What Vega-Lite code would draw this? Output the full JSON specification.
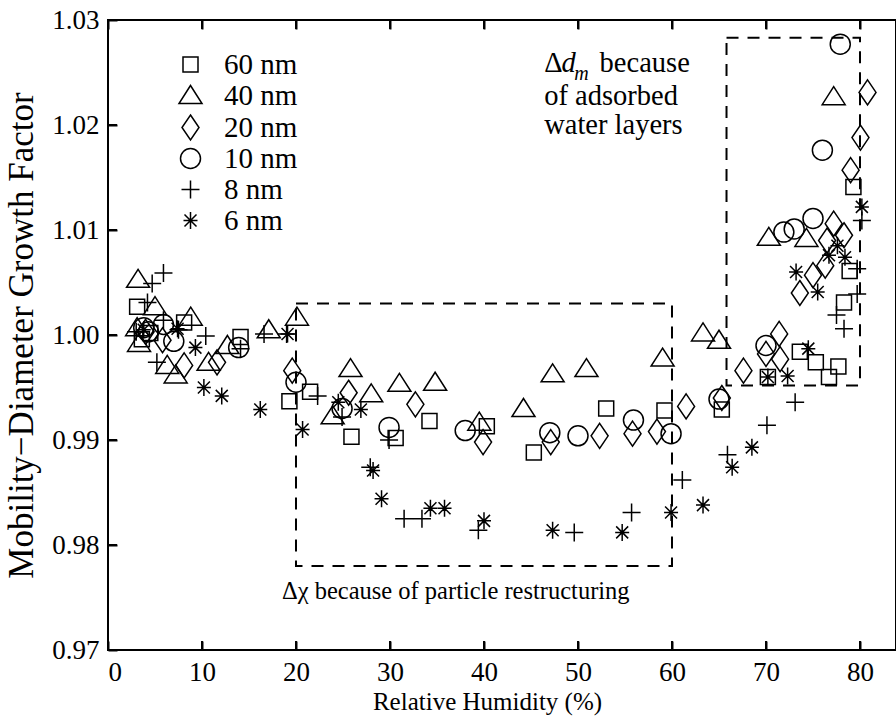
{
  "$schema": "https://vega.github.io/schema/vega-lite/v6.json",
  "width": 788,
  "height": 630,
  "autosize": {"type": "none"},
  "padding": {"left": 108, "top": 20, "right": 0, "bottom": 66},
  "background": "white",
  "config": {
    "font": "'Liberation Serif', 'Times New Roman', Times, 'DejaVu Serif', serif",
    "view": {"stroke": "black", "strokeWidth": 2},
    "axis": {"labelFont": "'Liberation Serif', 'Times New Roman', Times, 'DejaVu Serif', serif", "titleFont": "'Liberation Serif', 'Times New Roman', Times, 'DejaVu Serif', serif", "labelColor": "black", "titleColor": "black", "tickColor": "black", "tickOpacity": 1, "grid": false, "domain": false, "titleFontWeight": "normal"},
    "legend": {"labelFont": "'Liberation Serif', 'Times New Roman', Times, 'DejaVu Serif', serif"},
    "text": {"font": "'Liberation Serif', 'Times New Roman', Times, 'DejaVu Serif', serif"}
  },
  "resolve": {"axis": {"x": "independent"}},
  "datasets": {
    "xticks": [{"v": 0}, {"v": 10}, {"v": 20}, {"v": 30}, {"v": 40}, {"v": 50}, {"v": 60}, {"v": 70}, {"v": 80}],
    "yticks": [{"v": 0.97}, {"v": 0.98}, {"v": 0.99}, {"v": 1.0}, {"v": 1.01}, {"v": 1.02}, {"v": 1.03}]
  },
  "layer": [
    {
      "data": {"values": [
        {"x1": 20, "x2": 60, "y1": 0.978, "y2": 1.003},
        {"x1": 65.8, "x2": 80, "y1": 0.9952, "y2": 1.0283}
      ]},
      "mark": {"type": "rect", "fill": null, "stroke": "black", "strokeWidth": 2, "strokeDash": [12, 9]},
      "encoding": {
        "x": {"field": "x1", "type": "quantitative", "scale": {"domain": [0, 83.83], "nice": false, "zero": false},
              "axis": {"orient": "top", "labels": false, "title": null, "values": [0,10,20,30,40,50,60,70,80], "ticks": true, "tickColor": "black", "tickSize": 9, "offset": -9, "tickWidth": 2}},
        "x2": {"field": "x2"},
        "y": {"field": "y1", "type": "quantitative", "scale": {"domain": [0.97, 1.03], "nice": false, "zero": false}},
        "y2": {"field": "y2"}
      }
    },
    {
      "data": {"name": "xticks"},
      "mark": {"type": "rule", "color": "black", "strokeWidth": 2},
      "encoding": {
        "x": {"field": "v", "type": "quantitative", "axis": null},
        "y": {"datum": 1.03},
        "y2": {"datum": 1.02914}
      }
    },
    {
      "data": {"name": "xticks"},
      "mark": {"type": "rule", "color": "black", "strokeWidth": 2},
      "encoding": {
        "x": {"field": "v", "type": "quantitative", "axis": null},
        "y": {"datum": 0.97},
        "y2": {"datum": 0.97086}
      }
    },
    {
      "data": {"name": "yticks"},
      "mark": {"type": "rule", "color": "black", "strokeWidth": 2},
      "encoding": {
        "y": {"field": "v", "type": "quantitative"},
        "x": {"datum": 0, "axis": null},
        "x2": {"datum": 0.957}
      }
    },
    {
      "data": {"values": [
        {"rh": 3.1, "gf": 1.0027, "size": "60 nm"},
        {"rh": 3.6, "gf": 0.9996, "size": "60 nm"},
        {"rh": 4.5, "gf": 1.0002, "size": "60 nm"},
        {"rh": 8.1, "gf": 1.0012, "size": "60 nm"},
        {"rh": 14.1, "gf": 0.9998, "size": "60 nm"},
        {"rh": 19.3, "gf": 0.9937, "size": "60 nm"},
        {"rh": 21.5, "gf": 0.9946, "size": "60 nm"},
        {"rh": 25.9, "gf": 0.9903, "size": "60 nm"},
        {"rh": 30.6, "gf": 0.9902, "size": "60 nm"},
        {"rh": 34.2, "gf": 0.9918, "size": "60 nm"},
        {"rh": 40.3, "gf": 0.9913, "size": "60 nm"},
        {"rh": 45.3, "gf": 0.9888, "size": "60 nm"},
        {"rh": 53.0, "gf": 0.9930, "size": "60 nm"},
        {"rh": 59.2, "gf": 0.9928, "size": "60 nm"},
        {"rh": 65.3, "gf": 0.9929, "size": "60 nm"},
        {"rh": 70.2, "gf": 0.9960, "size": "60 nm"},
        {"rh": 73.6, "gf": 0.9984, "size": "60 nm"},
        {"rh": 75.3, "gf": 0.9974, "size": "60 nm"},
        {"rh": 76.7, "gf": 0.9960, "size": "60 nm"},
        {"rh": 77.7, "gf": 0.9970, "size": "60 nm"},
        {"rh": 78.3, "gf": 1.0031, "size": "60 nm"},
        {"rh": 78.9, "gf": 1.0061, "size": "60 nm"},
        {"rh": 79.3, "gf": 1.0141, "size": "60 nm"},

        {"rh": 3.2, "gf": 1.0053, "size": "40 nm"},
        {"rh": 3.1, "gf": 1.0007, "size": "40 nm"},
        {"rh": 3.3, "gf": 0.9992, "size": "40 nm"},
        {"rh": 5.0, "gf": 1.0027, "size": "40 nm"},
        {"rh": 8.8, "gf": 1.0017, "size": "40 nm"},
        {"rh": 6.3, "gf": 0.9971, "size": "40 nm"},
        {"rh": 7.2, "gf": 0.9962, "size": "40 nm"},
        {"rh": 10.7, "gf": 0.9974, "size": "40 nm"},
        {"rh": 12.7, "gf": 0.9990, "size": "40 nm"},
        {"rh": 17.1, "gf": 1.0005, "size": "40 nm"},
        {"rh": 20.1, "gf": 1.0017, "size": "40 nm"},
        {"rh": 23.9, "gf": 0.9923, "size": "40 nm"},
        {"rh": 25.8, "gf": 0.9968, "size": "40 nm"},
        {"rh": 28.0, "gf": 0.9944, "size": "40 nm"},
        {"rh": 31.0, "gf": 0.9954, "size": "40 nm"},
        {"rh": 34.8, "gf": 0.9955, "size": "40 nm"},
        {"rh": 39.5, "gf": 0.9917, "size": "40 nm"},
        {"rh": 44.2, "gf": 0.9930, "size": "40 nm"},
        {"rh": 47.3, "gf": 0.9963, "size": "40 nm"},
        {"rh": 50.9, "gf": 0.9968, "size": "40 nm"},
        {"rh": 59.0, "gf": 0.9978, "size": "40 nm"},
        {"rh": 63.3, "gf": 1.0002, "size": "40 nm"},
        {"rh": 65.0, "gf": 0.9995, "size": "40 nm"},
        {"rh": 70.3, "gf": 1.0093, "size": "40 nm"},
        {"rh": 74.3, "gf": 1.0092, "size": "40 nm"},
        {"rh": 77.2, "gf": 1.0227, "size": "40 nm"},

        {"rh": 4.0, "gf": 1.0003, "size": "20 nm"},
        {"rh": 5.8, "gf": 0.9995, "size": "20 nm"},
        {"rh": 8.1, "gf": 0.9971, "size": "20 nm"},
        {"rh": 11.6, "gf": 0.9974, "size": "20 nm"},
        {"rh": 19.6, "gf": 0.9966, "size": "20 nm"},
        {"rh": 25.6, "gf": 0.9945, "size": "20 nm"},
        {"rh": 32.7, "gf": 0.9934, "size": "20 nm"},
        {"rh": 39.9, "gf": 0.9898, "size": "20 nm"},
        {"rh": 47.1, "gf": 0.9898, "size": "20 nm"},
        {"rh": 52.3, "gf": 0.9904, "size": "20 nm"},
        {"rh": 55.8, "gf": 0.9906, "size": "20 nm"},
        {"rh": 58.4, "gf": 0.9908, "size": "20 nm"},
        {"rh": 61.5, "gf": 0.9932, "size": "20 nm"},
        {"rh": 65.3, "gf": 0.9940, "size": "20 nm"},
        {"rh": 67.6, "gf": 0.9966, "size": "20 nm"},
        {"rh": 70.0, "gf": 0.9982, "size": "20 nm"},
        {"rh": 71.4, "gf": 1.0001, "size": "20 nm"},
        {"rh": 71.5, "gf": 0.9977, "size": "20 nm"},
        {"rh": 73.6, "gf": 1.0040, "size": "20 nm"},
        {"rh": 75.0, "gf": 1.0057, "size": "20 nm"},
        {"rh": 76.3, "gf": 1.0066, "size": "20 nm"},
        {"rh": 76.5, "gf": 1.0090, "size": "20 nm"},
        {"rh": 77.2, "gf": 1.0106, "size": "20 nm"},
        {"rh": 78.3, "gf": 1.0095, "size": "20 nm"},
        {"rh": 79.0, "gf": 1.0157, "size": "20 nm"},
        {"rh": 80.05, "gf": 1.0188, "size": "20 nm"},
        {"rh": 80.8, "gf": 1.0231, "size": "20 nm"},

        {"rh": 3.8, "gf": 1.0007, "size": "10 nm"},
        {"rh": 4.3, "gf": 1.0003, "size": "10 nm"},
        {"rh": 5.9, "gf": 1.0010, "size": "10 nm"},
        {"rh": 7.0, "gf": 0.9994, "size": "10 nm"},
        {"rh": 13.9, "gf": 0.9988, "size": "10 nm"},
        {"rh": 20.0, "gf": 0.9955, "size": "10 nm"},
        {"rh": 24.9, "gf": 0.9930, "size": "10 nm"},
        {"rh": 29.9, "gf": 0.9912, "size": "10 nm"},
        {"rh": 38.0, "gf": 0.9909, "size": "10 nm"},
        {"rh": 47.0, "gf": 0.9907, "size": "10 nm"},
        {"rh": 50.0, "gf": 0.9904, "size": "10 nm"},
        {"rh": 55.9, "gf": 0.9919, "size": "10 nm"},
        {"rh": 59.9, "gf": 0.9906, "size": "10 nm"},
        {"rh": 65.0, "gf": 0.9939, "size": "10 nm"},
        {"rh": 70.0, "gf": 0.9990, "size": "10 nm"},
        {"rh": 71.9, "gf": 1.0098, "size": "10 nm"},
        {"rh": 73.0, "gf": 1.0101, "size": "10 nm"},
        {"rh": 75.0, "gf": 1.0111, "size": "10 nm"},
        {"rh": 76.0, "gf": 1.0176, "size": "10 nm"},
        {"rh": 77.9, "gf": 1.0277, "size": "10 nm"},

        {"rh": 3.0, "gf": 1.0003, "size": "8 nm"},
        {"rh": 4.2, "gf": 1.0031, "size": "8 nm"},
        {"rh": 4.7, "gf": 1.0049, "size": "8 nm"},
        {"rh": 5.9, "gf": 1.0059, "size": "8 nm"},
        {"rh": 5.9, "gf": 1.0014, "size": "8 nm"},
        {"rh": 5.2, "gf": 0.9974, "size": "8 nm"},
        {"rh": 7.5, "gf": 1.0005, "size": "8 nm"},
        {"rh": 10.4, "gf": 0.9999, "size": "8 nm"},
        {"rh": 14.1, "gf": 0.9987, "size": "8 nm"},
        {"rh": 16.6, "gf": 1.0001, "size": "8 nm"},
        {"rh": 19.0, "gf": 1.0001, "size": "8 nm"},
        {"rh": 22.3, "gf": 0.9942, "size": "8 nm"},
        {"rh": 24.9, "gf": 0.9922, "size": "8 nm"},
        {"rh": 27.9, "gf": 0.9874, "size": "8 nm"},
        {"rh": 29.9, "gf": 0.9900, "size": "8 nm"},
        {"rh": 31.5, "gf": 0.9825, "size": "8 nm"},
        {"rh": 33.4, "gf": 0.9825, "size": "8 nm"},
        {"rh": 39.4, "gf": 0.9814, "size": "8 nm"},
        {"rh": 49.6, "gf": 0.9812, "size": "8 nm"},
        {"rh": 55.7, "gf": 0.9831, "size": "8 nm"},
        {"rh": 61.1, "gf": 0.9862, "size": "8 nm"},
        {"rh": 65.9, "gf": 0.9886, "size": "8 nm"},
        {"rh": 70.1, "gf": 0.9914, "size": "8 nm"},
        {"rh": 73.1, "gf": 0.9936, "size": "8 nm"},
        {"rh": 77.5, "gf": 1.0019, "size": "8 nm"},
        {"rh": 78.3, "gf": 1.0006, "size": "8 nm"},
        {"rh": 79.7, "gf": 1.0039, "size": "8 nm"},
        {"rh": 79.7, "gf": 1.0063, "size": "8 nm"},
        {"rh": 80.2, "gf": 1.0109, "size": "8 nm"},

        {"rh": 3.8, "gf": 1.0005, "size": "6 nm"},
        {"rh": 7.4, "gf": 1.0006, "size": "6 nm"},
        {"rh": 9.3, "gf": 0.9988, "size": "6 nm"},
        {"rh": 10.2, "gf": 0.9950, "size": "6 nm"},
        {"rh": 12.1, "gf": 0.9942, "size": "6 nm"},
        {"rh": 16.2, "gf": 0.9929, "size": "6 nm"},
        {"rh": 19.1, "gf": 1.0001, "size": "6 nm"},
        {"rh": 20.7, "gf": 0.9910, "size": "6 nm"},
        {"rh": 24.5, "gf": 0.9936, "size": "6 nm"},
        {"rh": 26.9, "gf": 0.9929, "size": "6 nm"},
        {"rh": 28.2, "gf": 0.9871, "size": "6 nm"},
        {"rh": 29.1, "gf": 0.9844, "size": "6 nm"},
        {"rh": 34.3, "gf": 0.9835, "size": "6 nm"},
        {"rh": 35.8, "gf": 0.9835, "size": "6 nm"},
        {"rh": 40.0, "gf": 0.9823, "size": "6 nm"},
        {"rh": 47.3, "gf": 0.9814, "size": "6 nm"},
        {"rh": 54.7, "gf": 0.9812, "size": "6 nm"},
        {"rh": 59.9, "gf": 0.9831, "size": "6 nm"},
        {"rh": 63.3, "gf": 0.9838, "size": "6 nm"},
        {"rh": 66.4, "gf": 0.9874, "size": "6 nm"},
        {"rh": 68.5, "gf": 0.9893, "size": "6 nm"},
        {"rh": 70.2, "gf": 0.9960, "size": "6 nm"},
        {"rh": 72.3, "gf": 0.9961, "size": "6 nm"},
        {"rh": 74.5, "gf": 0.9987, "size": "6 nm"},
        {"rh": 73.2, "gf": 1.0060, "size": "6 nm"},
        {"rh": 75.5, "gf": 1.0041, "size": "6 nm"},
        {"rh": 76.7, "gf": 1.0076, "size": "6 nm"},
        {"rh": 77.6, "gf": 1.0085, "size": "6 nm"},
        {"rh": 78.4, "gf": 1.0074, "size": "6 nm"},
        {"rh": 80.2, "gf": 1.0122, "size": "6 nm"}
      ]},
      "mark": {"type": "point", "filled": false, "strokeWidth": 1.5, "size": 400, "opacity": 1},
      "encoding": {
        "x": {"field": "rh", "type": "quantitative",
              "axis": {"orient": "bottom", "title": "Relative Humidity (%)", "values": [0,10,20,30,40,50,60,70,80], "ticks": true, "tickColor": "black", "tickSize": 9, "offset": -9, "tickWidth": 2, "labelFontSize": 27, "labelPadding": 9, "titleFontSize": 25, "titleX": 379, "titleY": 68, "titleBaseline": "alphabetic"}},
        "y": {"field": "gf", "type": "quantitative",
              "axis": {"title": "Mobility−Diameter Growth Factor", "values": [0.97,0.98,0.99,1.0,1.01,1.02,1.03], "format": ".2f", "ticks": true, "tickColor": "black", "tickSize": 9, "offset": -9, "tickWidth": 2, "labelFontSize": 27, "labelPadding": 9, "titleFontSize": 35, "titleX": -85, "titleBaseline": "alphabetic"}},
        "color": {"value": "black"},
        "shape": {"field": "size", "type": "nominal",
                  "scale": {"domain": ["60 nm", "40 nm", "20 nm", "10 nm", "8 nm", "6 nm"],
                            "range": ["M-0.75,-0.75H0.75V0.75H-0.75Z", "M0,-1.0L1.15,0.8L-1.15,0.8Z", "M0,-1.25L0.85,0L0,1.25L-0.85,0Z", "circle", "M-0.9,0H0.9M0,-0.9V0.9", "M-0.7,0H0.7M0,-0.85V0.85M-0.6,-0.6L0.6,0.6M-0.6,0.6L0.6,-0.6"]},
                  "legend": {"orient": "none", "legendX": 68, "legendY": 30, "title": null, "padding": 0, "labelFontSize": 29, "labelColor": "black", "symbolSize": 400, "symbolStrokeWidth": 1.5, "symbolStrokeColor": "black", "symbolFillColor": "transparent", "labelOffset": 19, "rowPadding": 1}}
      }
    },
    {
      "data": {"values": [
        {"x": 18.5, "y": 0.97486, "t": "Δχ because of particle restructuring"}
      ]},
      "mark": {"type": "text", "align": "left", "baseline": "alphabetic", "fontSize": 24.5, "color": "black"},
      "encoding": {
        "x": {"field": "x", "type": "quantitative", "axis": null},
        "y": {"field": "y", "type": "quantitative"},
        "text": {"field": "t"}
      }
    },
    {
      "data": {"values": [
        {"x": 46.4, "y": 1.02505, "t": "Δ"},
        {"x": 52.3, "y": 1.02505, "t": "because"},
        {"x": 46.4, "y": 1.0219, "t": "of adsorbed"},
        {"x": 46.4, "y": 1.01914, "t": "water layers"}
      ]},
      "mark": {"type": "text", "align": "left", "baseline": "alphabetic", "fontSize": 28.5, "color": "black"},
      "encoding": {
        "x": {"field": "x", "type": "quantitative", "axis": null},
        "y": {"field": "y", "type": "quantitative"},
        "text": {"field": "t"}
      }
    },
    {
      "data": {"values": [{"x": 48.25, "y": 1.02505, "t": "d"}]},
      "mark": {"type": "text", "align": "left", "baseline": "alphabetic", "fontSize": 28.5, "fontStyle": "italic", "color": "black"},
      "encoding": {
        "x": {"field": "x", "type": "quantitative", "axis": null},
        "y": {"field": "y", "type": "quantitative"},
        "text": {"field": "t"}
      }
    },
    {
      "data": {"values": [{"x": 49.6, "y": 1.02429, "t": "m"}]},
      "mark": {"type": "text", "align": "left", "baseline": "alphabetic", "fontSize": 20, "fontStyle": "italic", "color": "black"},
      "encoding": {
        "x": {"field": "x", "type": "quantitative", "axis": null},
        "y": {"field": "y", "type": "quantitative"},
        "text": {"field": "t"}
      }
    }
  ]
}
